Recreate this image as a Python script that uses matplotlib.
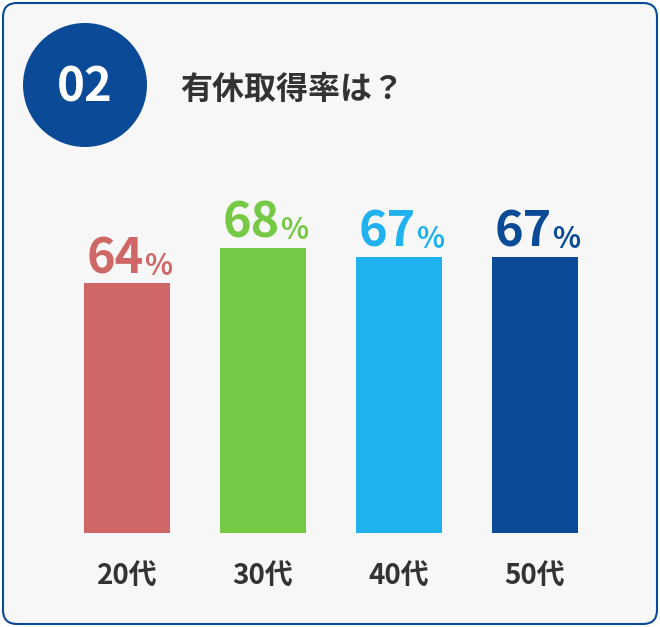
import matplotlib
matplotlib.use("Agg")
import matplotlib.pyplot as plt
from matplotlib.patches import FancyBboxPatch, Circle

plt.rcParams['font.family'] = ['Noto Sans CJK JP', 'DejaVu Sans']

categories = ['20代', '30代', '40代', '50代']
values = [64, 68, 67, 67]
colors = ['#cf6766', '#76c944', '#20b2ee', '#0a4a96']
title = '有休取得率は？'
badge = '02'

W, H = 660, 627
fig = plt.figure(figsize=(W / 100, H / 100), dpi=100)
fig.patch.set_facecolor('white')

# background card
bg = fig.add_axes([0, 0, 1, 1])
bg.set_xlim(0, W)
bg.set_ylim(H, 0)
bg.axis('off')
bg.add_patch(FancyBboxPatch((3, 3), W - 6, H - 6, boxstyle='round,pad=0,rounding_size=14',
                            fc='#f7f7f7', ec='#0a4a96', lw=1.5))
bg.add_patch(Circle((85, 85), 62, fc='#0a4a96', ec='none'))
bg.text(85, 87, badge, color='white', fontsize=34, fontweight='bold', ha='center', va='center')
bg.text(180, 90, title, color='#333333', fontsize=23, fontweight='bold', ha='left', va='center')

# bars
ax = fig.add_axes([59 / W, 94 / H, 544 / W, 303 / H])
ax.set_xlim(-0.5, 3.5)
ax.set_ylim(36, 70)
ax.axis('off')
x = range(len(values))
ax.bar(x, values, width=0.63, color=colors)
for i, (v, c) in enumerate(zip(values, colors)):
    ax.annotate(str(v), (i, v), xytext=(12, 0), textcoords='offset points',
                ha='right', va='bottom', fontsize=35, fontweight='bold', color=c)
    ax.annotate('%', (i, v), xytext=(12, 2), textcoords='offset points',
                ha='left', va='bottom', fontsize=21, fontweight='bold', color=c)
    ax.annotate(categories[i], (i, 36), xytext=(0, -31), textcoords='offset points',
                ha='center', va='center', fontsize=20, fontweight='bold', color='#333333',
                annotation_clip=False)

fig.savefig('out.png', dpi=100)
